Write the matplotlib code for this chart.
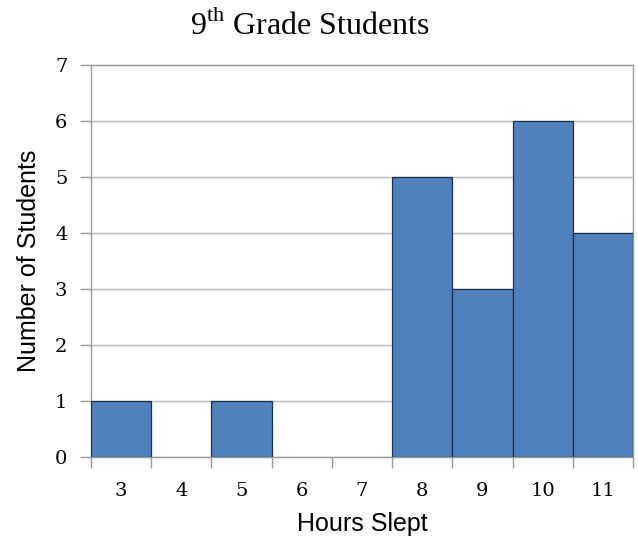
import matplotlib.pyplot as plt
import numpy as np

plt.rcParams["mathtext.fontset"] = "custom"
plt.rcParams["mathtext.rm"] = "Liberation Serif"

# data
hours = [3, 4, 5, 6, 7, 8, 9, 10, 11]
students = [1, 0, 1, 0, 0, 5, 3, 6, 4]
y_ticks = [0, 1, 2, 3, 4, 5, 6, 7]

fig = plt.figure(figsize=(6.38, 5.37), dpi=100)
ax = fig.add_axes([0.1426, 0.149, 0.8495, 0.730])

# empty bins get no outline, so the baseline stays grey
edge_w = [0.9 if v > 0 else 0 for v in students]
ax.bar(hours, students, width=1.0, color="#4F81BD", edgecolor="#1F2F45",
       linewidth=edge_w, zorder=3)

ax.set_xlim(2.5, 11.5)
ax.set_ylim(0, 7)
ax.set_yticks(y_ticks)
ax.yaxis.grid(True, color="#BBBBBB", linewidth=1.0, zorder=0)

# labels in the middle of each bin, tick marks at the bin edges
ax.set_xticks(hours)
ax.set_xticks(np.arange(2.5, 12.0, 1.0), minor=True)
ax.tick_params(axis="x", which="major", length=0, pad=18)
ax.tick_params(axis="x", which="minor", length=8, color="#999999", width=1)
ax.tick_params(axis="y", length=8, color="#999999", width=1, pad=9)

for lab in ax.get_xticklabels() + ax.get_yticklabels():
    lab.set_fontfamily("DejaVu Serif")
    lab.set_fontsize(14)

for s in ax.spines.values():
    s.set_color("#999999")
    s.set_linewidth(1.0)

ax.set_xlabel("Hours Slept", fontfamily="Liberation Sans", fontsize=18, labelpad=9)
ax.set_ylabel("Number of Students", fontfamily="Liberation Sans", fontsize=18, labelpad=10)

fig.text(0.486, 0.953, r"9$^{\rm th}$ Grade Students", ha="center", va="center",
         fontfamily="Liberation Serif", fontsize=23)

fig.savefig("out.png", dpi=100)
